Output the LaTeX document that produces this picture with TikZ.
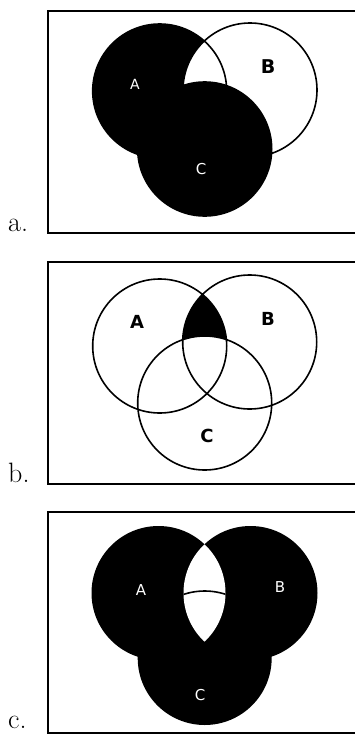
\documentclass[tikz,border=0pt]{standalone}
\usepackage{fontspec}
\newfontfamily\lab{DejaVu Sans}
\begin{document}
\begin{tikzpicture}[x=1pt,y=-1pt]
\tikzset{
  frame/.style={line width=2pt},
  ring/.style={line width=1.6pt},
  lbl/.style={inner sep=0pt},
  tag/.style={font=\fontsize{28}{30}\selectfont, anchor=base west, inner sep=0pt}
}
\def\R{67pt}
\useasboundingbox (0,0) rectangle (355,734);
\fill[white] (0,0) rectangle (355,734);

% ---------------- panel a ----------------
\coordinate (aA) at (159.7,91);
\coordinate (aB) at (250,90);
\coordinate (aC) at (204.7,149);
\draw[frame] (362,11) -- (48.3,11) -- (48.3,232.5) -- (362,232.5);
\fill (aA) circle[radius=\R];
\begin{scope}
  \clip (aA) circle[radius=\R];
  \fill[white] (aB) circle[radius=\R];
\end{scope}
\fill (aC) circle[radius=\R];
\draw[ring] (aA) circle[radius=\R] (aB) circle[radius=\R] (aC) circle[radius=\R];
\node[lbl, text=white, font=\lab\fontsize{14}{14}\selectfont] (aLA) at (135,84) {A};
\node[lbl, font=\lab\bfseries\fontsize{19}{19}\selectfont] (aLB) at (268,67) {B};
\node[lbl, text=white, font=\lab\fontsize{15}{15}\selectfont] (aLC) at (201,169) {C};
\node[tag] (atag) at (8,231) {a.};

% ---------------- panel b ----------------
\coordinate (bA) at (159.7,346);
\coordinate (bB) at (249.7,342);
\coordinate (bC) at (204.7,403);
\draw[frame] (362,262) -- (48.3,262) -- (48.3,483.5) -- (362,483.5);
\begin{scope}
  \clip (bA) circle[radius=\R];
  \clip (bB) circle[radius=\R];
  \fill (bB) circle[radius=\R];
  \fill[white] (bC) circle[radius=\R];
\end{scope}
\draw[ring] (bA) circle[radius=\R] (bB) circle[radius=\R] (bC) circle[radius=\R];
\node[lbl, font=\lab\bfseries\fontsize{18}{18}\selectfont] (bLA) at (137,322) {A};
\node[lbl, font=\lab\bfseries\fontsize{18}{18}\selectfont] (bLB) at (268,319) {B};
\node[lbl, font=\lab\bfseries\fontsize{18}{18}\selectfont] (bLC) at (207,436) {C};
\node[tag] (btag) at (8,482) {b.};

% ---------------- panel c ----------------
\coordinate (cA) at (158.5,593);
\coordinate (cB) at (250.5,593);
\coordinate (cC) at (204.7,658);
\draw[frame] (362,512) -- (48.3,512) -- (48.3,732.5) -- (362,732.5);
\fill (cA) circle[radius=\R] (cB) circle[radius=\R] (cC) circle[radius=\R];
\begin{scope}
  \clip (cA) circle[radius=\R];
  \fill[white] (cB) circle[radius=\R];
  \clip (cB) circle[radius=\R];
  \draw[ring] (cC) circle[radius=\R];
\end{scope}
\node[lbl, text=white, font=\lab\fontsize{15}{15}\selectfont] (cLA) at (141,590) {A};
\node[lbl, text=white, font=\lab\fontsize{15}{15}\selectfont] (cLB) at (280,587) {B};
\node[lbl, text=white, font=\lab\fontsize{15}{15}\selectfont] (cLC) at (200,695) {C};
\node[tag] (ctag) at (8,728) {c.};
\end{tikzpicture}
\end{document}
